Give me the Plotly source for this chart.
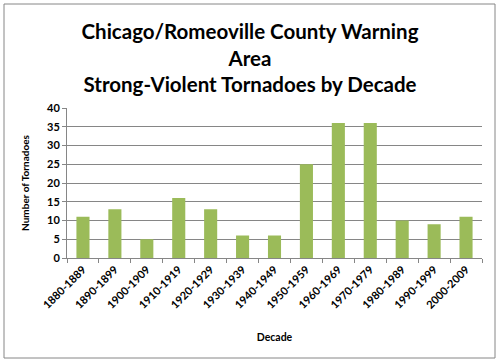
import plotly.graph_objects as go

decades = ["1880-1889", "1890-1899", "1900-1909", "1910-1919", "1920-1929", "1930-1939",
           "1940-1949", "1950-1959", "1960-1969", "1970-1979", "1980-1989", "1990-1999", "2000-2009"]
counts = [11, 13, 5, 16, 13, 6, 6, 25, 36, 36, 10, 9, 11]

W, H = 500, 363
L, R, T, B = 67, 18, 108, 105
pw, ph = W - L - R, H - T - B

font = "Lato, 'Open Sans', sans-serif"

fig = go.Figure(go.Bar(x=decades, y=counts, marker=dict(color="#9BBB59", line=dict(width=0)),
                       width=0.41))

def px(xp):
    return (xp - L) / pw

def py(yp):
    return (H - B - yp) / ph

fig.update_layout(
    width=W, height=H,
    margin=dict(l=L, r=R, t=T, b=B),
    paper_bgcolor="white", plot_bgcolor="white",
    showlegend=False,
    title=dict(text="Chicago/Romeoville County Warning<br>Area<br>Strong-Violent Tornadoes by Decade",
               x=0.5, xanchor="center", y=1 - 39 / H, yanchor="middle", yref="container",
               font=dict(family=font, size=20.5, color="black", weight="bold")),
    xaxis=dict(tickangle=-45, tickfont=dict(family=font, size=11, color="black", weight="bold"),
               showline=True, linecolor="#868686", linewidth=1, ticks="outside", tickson="boundaries",
               ticklen=4, tickcolor="#868686", showgrid=False,
               title=dict(text="Decade", font=dict(family=font, size=10.5, color="black", weight="bold"),
                          standoff=23)),
    yaxis=dict(range=[0, 40], dtick=5, tickfont=dict(family=font, size=11, color="black", weight="bold"),
               showline=True, linecolor="#868686", linewidth=1, ticks="outside", ticklen=4,
               tickcolor="#868686", showgrid=True, gridcolor="#868686", gridwidth=1, zeroline=False,
               title=dict(text="Number of Tornadoes", font=dict(family=font, size=10, color="black", weight="bold"),
                          standoff=15)),
    shapes=[dict(type="rect", xref="paper", yref="paper",
                 x0=px(4), x1=px(495), y0=py(358), y1=py(4),
                 line=dict(color="#868686", width=1), fillcolor="rgba(0,0,0,0)", layer="below")],
)

fig.write_html("out.html", config={"displayModeBar": False},
               post_script="document.body.style.margin='0';")
